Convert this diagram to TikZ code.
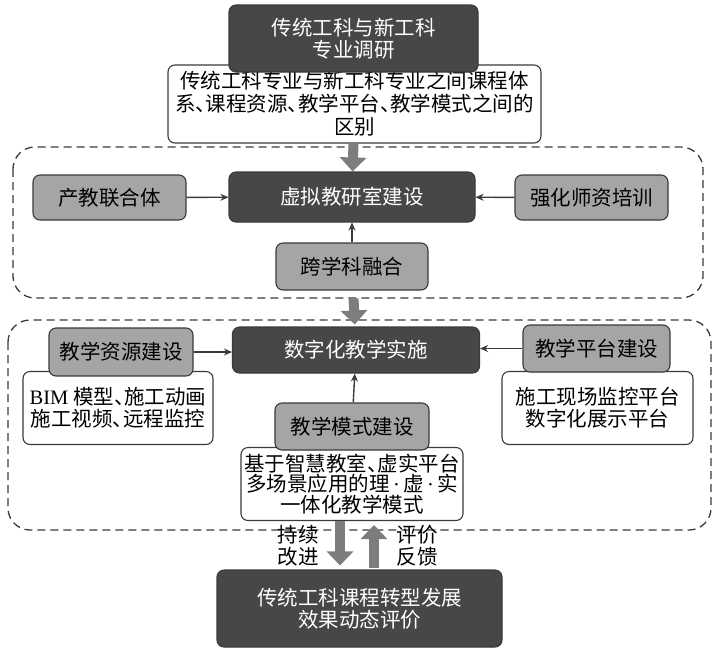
\documentclass[tikz,border=0pt]{standalone}
\usepackage{fontspec}
\setmainfont{Noto Sans CJK SC}
\newfontfamily\latinrm{Liberation Serif}
\usetikzlibrary{arrows.meta}
\definecolor{darkfill}{HTML}{474747}
\definecolor{grayfill}{HTML}{A5A5A5}
\definecolor{arrowgray}{HTML}{7D7D7D}
\definecolor{edgegray}{HTML}{3A3A3A}
\newcommand\dun{\makebox[0.5em][l]{、}}
\newcommand\mdot{{\latinrm\,·\,}}
\begin{document}
\begin{tikzpicture}[x=1pt, y=-1pt,
    every node/.style = {rounded corners=7pt, draw=edgegray, line width=1.1pt, align=center,
      inner sep=0pt, font=\fontsize{20.5pt}{22pt}\selectfont},
    darkbox/.style = {fill=darkfill, text=white},
    graybox/.style = {fill=grayfill, text=black},
    notebox/.style = {fill=white, text=black},
    sidetext/.style = {draw=none, fill=none},
    grouprect/.style = {draw=edgegray, line width=1.3pt, dash pattern=on 8pt off 5pt, rounded corners=22pt},
    link/.style = {draw=edgegray, line width=1.4pt, -{Stealth[length=8pt,width=7pt]}},
    bigarrow/.style = {draw=arrowgray, line width=10pt, -{Triangle[length=14pt,width=26pt]}}]
  \useasboundingbox (0,0) rectangle (714,651);

  % dashed groups
  \draw[grouprect] (13,147) rectangle (703,298);
  \draw[grouprect] (8,320) rectangle (711,530);

  % survey
  \node[notebox, minimum width=373pt, minimum height=78pt,
    font=\fontsize{20.5pt}{23pt}\selectfont] (gap) at (354.5,104)
    {传统工科专业与新工科专业之间课程体\\系\dun 课程资源\dun 教学平台\dun 教学模式之间的\\区别};
  \node[darkbox, minimum width=249pt, minimum height=67pt] (survey) at (353.5,38.5)
    {传统工科与新工科\\专业调研};

  % virtual teaching office
  \node[darkbox, minimum width=246pt, minimum height=50pt] (vr) at (352,197) {虚拟教研室建设};
  \node[graybox, minimum width=153pt, minimum height=45pt] (ind) at (109.5,197.5) {产教联合体};
  \node[graybox, minimum width=153pt, minimum height=45pt] (train) at (591.5,197.5) {强化师资培训};
  \node[graybox, minimum width=152pt, minimum height=47pt] (cross) at (352,266.5) {跨学科融合};

  % digital teaching
  \node[darkbox, minimum width=247pt, minimum height=46pt] (digi) at (356,350) {数字化教学实施};
  \node[notebox, minimum width=190pt, minimum height=73pt] (resw) at (118,408)
    {{\latinrm BIM} 模型\dun 施工动画\\施工视频\dun 远程监控};
  \node[graybox, minimum width=144pt, minimum height=48pt] (res) at (121,352) {教学资源建设};
  \node[notebox, minimum width=191pt, minimum height=73pt] (platw) at (597.5,408)
    {施工现场监控平台\\数字化展示平台};
  \node[graybox, minimum width=147pt, minimum height=47pt] (plat) at (596.5,348.5) {教学平台建设};
  \node[notebox, minimum width=222pt, minimum height=73pt,
    font=\fontsize{20.5pt}{20.5pt}\selectfont] (modew) at (352,484)
    {基于智慧教室\dun 虚实平台\\多场景应用的理\mdot 虚\mdot 实\\一体化教学模式};
  \node[graybox, minimum width=154pt, minimum height=47pt] (mode) at (352,426.5) {教学模式建设};

  % evaluation
  \node[darkbox, minimum width=285pt, minimum height=77pt] (eval) at (359.5,608.5)
    {传统工科课程转型发展\\效果动态评价};
  \node[sidetext] (improve) at (298,546) {持续\\改进};
  \node[sidetext] (feedback) at (417,546) {评价\\反馈};

  \draw[link] (ind) -- (vr);
  \draw[link] (train) -- (vr);
  \draw[link] (cross) -- (vr);
  \draw[link] (res.east) -- (res.east -| digi.west);
  \draw[link] (plat.west) -- (plat.west -| digi.east);
  \draw[link] (mode) -- (digi);

  \draw[bigarrow] (gap) -- (vr);
  \draw[bigarrow, shorten <=8pt, shorten >=2pt] (cross) -- (digi);
  \draw[bigarrow, shorten >=4pt] ([xshift=-12pt]modew.south) -- ([xshift=-19.5pt]eval.north);
  \draw[bigarrow, shorten <=1pt, shorten >=4pt] ([xshift=14.5pt]eval.north) -- ([xshift=22pt]modew.south);
\end{tikzpicture}
\end{document}
